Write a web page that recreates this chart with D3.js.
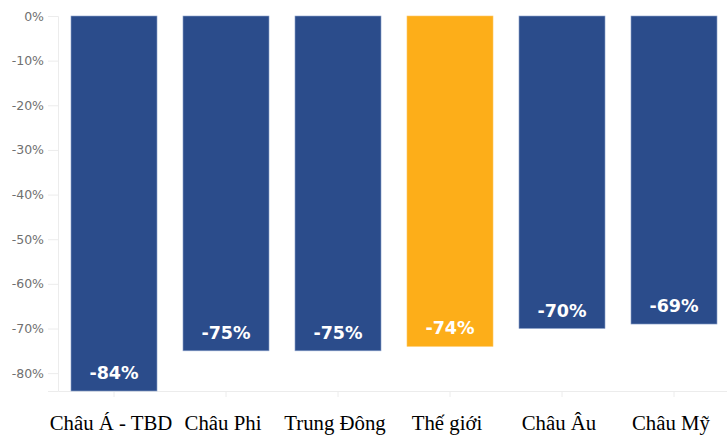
<!DOCTYPE html>
<html>
<head>
<meta charset="utf-8">
<script src="https://cdn.jsdelivr.net/npm/d3@7"></script>
<style>
  body { margin: 0; background: #fff; }
</style>
</head>
<body>
<div id="chart"></div>
<script>
// region names and drop in percent
const categories = ["Châu Á - TBD", "Châu Phi", "Trung Đông", "Thế giới", "Châu Âu", "Châu Mỹ"];
const values = [-84, -75, -75, -74, -70, -69];
const yTicks = [0, -10, -20, -30, -40, -50, -60, -70, -80];
const highlight = "Thế giới";

const width = 727, height = 442;
const margin = {top: 16, right: -3, bottom: 51, left: 58};

const svg = d3.select("#chart").append("svg")
    .attr("width", width)
    .attr("height", height);

const x = d3.scaleBand()
    .domain(categories)
    .range([margin.left, width - margin.right])
    .paddingInner(0.232)
    .paddingOuter(0.116);

const y = d3.scaleLinear()
    .domain([0, -84])
    .range([margin.top, height - margin.bottom]);

// y axis
const yAxis = svg.append("g")
    .attr("transform", "translate(" + margin.left + ",0)")
    .call(d3.axisLeft(y).tickValues(yTicks).tickSize(10).tickPadding(4)
      .tickFormat(d => d + "%"));
yAxis.select(".domain").attr("stroke", "#ececec");
yAxis.selectAll(".tick line").attr("stroke", "#ececec");
yAxis.selectAll("text")
    .attr("fill", "#707070")
    .style("font-family", "Verdana, 'DejaVu Sans', sans-serif")
    .style("font-size", "12.5px");

// x axis
const xAxis = svg.append("g")
    .attr("transform", "translate(0," + y(-84) + ")")
    .call(d3.axisBottom(x).tickSize(6).tickSizeOuter(0).tickPadding(17));
xAxis.select(".domain").attr("stroke", "#ececec");
xAxis.selectAll(".tick line").attr("stroke", "#ececec");
xAxis.selectAll("text")
    .attr("fill", "#000")
    .attr("dx", -3)
    .attr("dy", "0.76em")
    .style("font-family", "'Liberation Serif', 'Times New Roman', serif")
    .style("font-size", "20.8px");

// bars
svg.selectAll("rect.bar")
  .data(categories)
  .join("rect")
    .attr("class", "bar")
    .attr("x", d => x(d))
    .attr("y", y(0))
    .attr("width", x.bandwidth())
    .attr("height", (d, i) => y(values[i]) - y(0))
    .attr("fill", d => d === highlight ? "#fdae19" : "#2b4c8b")
    .attr("stroke", d => d === highlight ? "#fdc766" : "#8ea3cc")
    .attr("stroke-width", 0.6);

// value labels
svg.selectAll("text.val")
  .data(categories)
  .join("text")
    .attr("class", "val")
    .attr("x", d => x(d) + x.bandwidth() / 2)
    .attr("y", (d, i) => y(values[i]) - 12)
    .attr("text-anchor", "middle")
    .attr("fill", "#fff")
    .style("font-family", "Verdana, 'DejaVu Sans', sans-serif")
    .style("font-weight", "bold")
    .style("font-size", "17.5px")
    .text((d, i) => values[i] + "%");
</script>
</body>
</html>
